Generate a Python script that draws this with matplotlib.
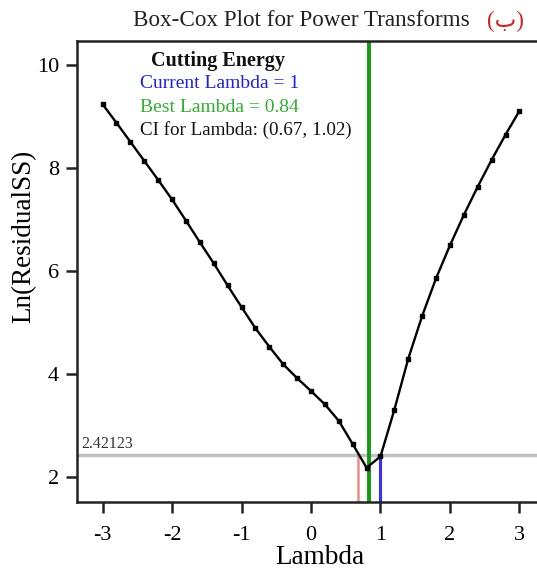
import matplotlib
matplotlib.use("Agg")
import matplotlib.pyplot as plt

lambdas = [-3.0, -2.8, -2.6, -2.4, -2.2, -2.0, -1.8, -1.6, -1.4, -1.2, -1.0,
           -0.8, -0.6, -0.4, -0.2, 0.0, 0.2, 0.4, 0.6, 0.8, 1.0,
           1.2, 1.4, 1.6, 1.8, 2.0, 2.2, 2.4, 2.6, 2.8, 3.0]
ln_rss = [9.24, 8.88, 8.51, 8.14, 7.77, 7.39, 6.98, 6.56, 6.15, 5.72, 5.30,
          4.89, 4.53, 4.19, 3.92, 3.67, 3.41, 3.09, 2.64, 2.18, 2.40,
          3.31, 4.30, 5.13, 5.86, 6.50, 7.09, 7.64, 8.16, 8.65, 9.11]
ci_limit = 2.42123
ci_lower = 0.67
ci_upper = 1.02
best_lambda = 0.84
current_lambda = 1.0
current_value = 2.40
xticks = [-3, -2, -1, 0, 1, 2, 3]
yticks = [2, 4, 6, 8, 10]

W, H = 537, 573
fig = plt.figure(figsize=(W / 100, H / 100), dpi=100)
serif = ['Liberation Serif', 'DejaVu Serif']
plt.rcParams['font.family'] = serif

ax = fig.add_axes([77 / W, 71 / H, 468 / W, 461 / H])
ax.set_xlim(-3.367, 3.367)
ax.set_ylim(1.515, 10.466)

ax.axhline(ci_limit, color='#c0c0c0', lw=2.5, zorder=1)
ax.plot([ci_lower, ci_lower], [1.515, ci_limit], color='#f08a8a', lw=1.8, zorder=2)
ax.plot([current_lambda, current_lambda], [1.515, current_value], color='#3a2cff', lw=2.2, zorder=2)
ax.axvline(best_lambda, color='#109a10', lw=2.8, zorder=2)
ax.plot(lambdas, ln_rss, color='black', lw=1.7, marker='s', ms=3.4, zorder=4)

ax.set_xticks(xticks)
ax.set_yticks(yticks)
ax.set_xticklabels([str(t) for t in xticks])
ax.set_yticklabels([str(t) for t in yticks])
ax.tick_params(axis='both', direction='out', length=8, width=1.8, labelsize=16, color='#222222')
ax.tick_params(axis='x', pad=9)
ax.tick_params(axis='y', pad=5)
for sp in ax.spines.values():
    sp.set_linewidth(1.8)
    sp.set_color('#222222')

ax.set_xlabel('Lambda', fontsize=19.5, va='center')
ax.xaxis.set_label_coords((320 - 77) / 468, (502 - 558) / 461)
ax.set_ylabel('Ln(ResidualSS)', fontsize=19.5, va='center')
ax.yaxis.set_label_coords((24 - 77) / 468, (502 - 236) / 461)

ax.text(-3.3, ci_limit + 0.07, '2.42123', fontsize=11.5, color='#333333', va='bottom', ha='left')

fig.text(133 / W, 1 - 21 / H, 'Box-Cox Plot for Power Transforms', fontsize=16.7,
         ha='left', va='center', color='#222222')
fig.text(487 / W, 1 - 21 / H, '(ب)', fontsize=16.5, ha='left', va='center',
         color='#d02020', family=['Liberation Serif', 'DejaVu Sans'])

fig.text(218 / W, 1 - 61 / H, 'Cutting Energy', fontsize=14.5, fontweight='bold',
         ha='center', va='center', color='#111111')
fig.text(140 / W, 1 - 84 / H, 'Current Lambda = 1', fontsize=14,
         ha='left', va='center', color='#2020e0')
fig.text(140 / W, 1 - 107 / H, 'Best Lambda = 0.84', fontsize=14,
         ha='left', va='center', color='#30b030')
fig.text(140 / W, 1 - 130 / H, 'CI for Lambda: (0.67, 1.02)', fontsize=13.7,
         ha='left', va='center', color='#111111')

fig.savefig('out.png', dpi=100)
